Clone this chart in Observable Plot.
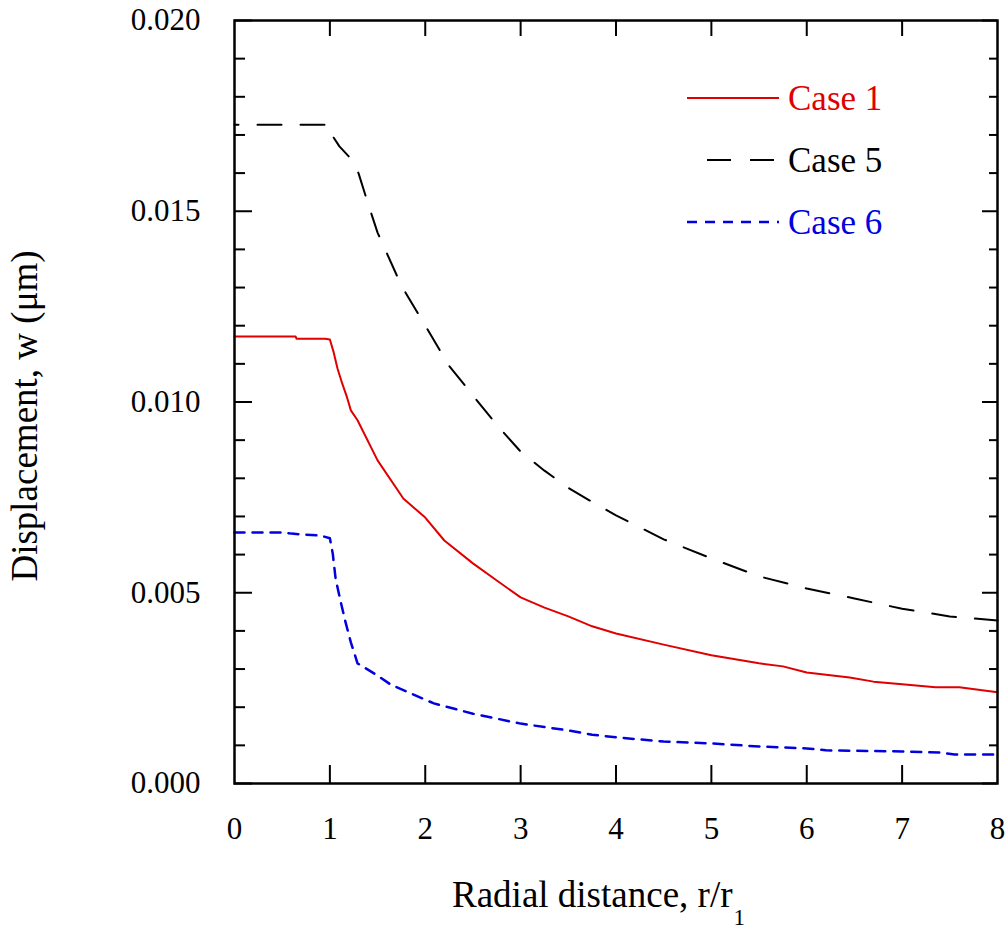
<!DOCTYPE html>
<html><head><meta charset="utf-8">
<script src="https://cdn.jsdelivr.net/npm/d3@7"></script>
<script src="https://cdn.jsdelivr.net/npm/@observablehq/plot@0.6"></script>
<style>body{margin:0;background:#fff}</style>
</head><body><div id="chart"></div>
<script>
// Case 1 (red solid)
const r1 = [0, 0.64, 0.65, 0.95, 1.0, 1.04, 1.08, 1.13, 1.18, 1.22, 1.29, 1.5, 1.77, 2.0, 2.2, 2.5, 2.75, 3.0, 3.25, 3.5, 3.75, 4.0, 4.5, 5.0, 5.5, 5.75, 6.0, 6.45, 6.7, 7.0, 7.35, 7.6, 8.0];
const w1 = [0.01172, 0.01172, 0.01166, 0.01166, 0.01164, 0.0113, 0.01088, 0.01048, 0.01012, 0.00978, 0.00952, 0.00847, 0.00747, 0.00697, 0.00637, 0.00577, 0.00532, 0.00488, 0.00461, 0.00438, 0.00412, 0.00393, 0.00364, 0.00336, 0.00315, 0.00307, 0.00291, 0.00278, 0.00267, 0.0026, 0.00252, 0.00252, 0.00239];
// Case 5 (black long dash)
const r5 = [0, 1.0, 1.04, 1.1, 1.22, 1.3, 1.4, 1.5, 1.75, 2.0, 2.25, 2.5, 2.75, 3.0, 3.25, 3.5, 3.75, 4.0, 4.5, 5.0, 5.5, 6.0, 6.5, 7.0, 7.5, 8.0];
const w5 = [0.01727, 0.01727, 0.01693, 0.0167, 0.01638, 0.016, 0.0152, 0.01444, 0.01305, 0.012, 0.01095, 0.01017, 0.0094, 0.0087, 0.0082, 0.00775, 0.00738, 0.00703, 0.0064, 0.0059, 0.00543, 0.00511, 0.00485, 0.00458, 0.00438, 0.00427];
// Case 6 (blue short dash)
const r6 = [0, 0.5, 0.6, 0.75, 0.9, 1.0, 1.03, 1.06, 1.11, 1.16, 1.22, 1.29, 1.5, 1.64, 2.09, 2.5, 3.0, 3.5, 3.75, 4.0, 4.5, 5.0, 5.5, 6.0, 6.2, 7.0, 7.4, 7.55, 8.0];
const w6 = [0.00658, 0.00658, 0.00655, 0.00652, 0.0065, 0.00643, 0.00603, 0.00537, 0.0048, 0.00427, 0.0037, 0.00315, 0.00283, 0.00259, 0.0021, 0.00183, 0.00157, 0.00139, 0.00128, 0.00121, 0.0011, 0.00105, 0.00097, 0.00092, 0.00087, 0.00084, 0.00081, 0.00076, 0.00076];

const seriesNames = ["Case 1", "Case 5", "Case 6"];
const xTickLabels = [0, 1, 2, 3, 4, 5, 6, 7, 8];
const xInnerTicks = [1, 2, 3, 4, 5, 6, 7];
const yMajorTicks = [0, 0.005, 0.010, 0.015, 0.020];
const yMinorTicks = [0.001, 0.002, 0.003, 0.004, 0.006, 0.007, 0.008, 0.009, 0.011, 0.012, 0.013, 0.014, 0.016, 0.017, 0.018, 0.019];

const toRows = (rs, ws) => rs.map((r, i) => ({r, w: ws[i]}));
const d1 = toRows(r1, w1), d5 = toRows(r5, w5), d6 = toRows(r6, w6);

const W = 1005, H = 931, mL = 234, mR = 8, mT = 20, mB = 148;
const pw = W - mL - mR, ph = H - mT - mB;
const RED = "#e00000", BLUE = "#0000e0";

const plot = Plot.plot({
  width: W, height: H,
  marginLeft: mL, marginRight: mR, marginTop: mT, marginBottom: mB,
  style: {fontFamily: "Liberation Serif", background: "#fff", color: "#000", overflow: "visible"},
  x: {domain: [0, 8]},
  y: {domain: [0, 0.02]},
  marks: [
    Plot.line(d1, {x: "r", y: "w", stroke: RED, strokeWidth: 2}),
    Plot.line(d5, {x: "r", y: "w", stroke: "#000", strokeWidth: 2, strokeDasharray: "24,19", strokeDashoffset: 20}),
    Plot.line(d6, {x: "r", y: "w", stroke: BLUE, strokeWidth: 2.5, strokeDasharray: "10,8"}),
    // inward ticks
    Plot.tickY(yMajorTicks, {y: d => d, insetRight: pw - 18, stroke: "#000", strokeWidth: 2}),
    Plot.tickY(yMinorTicks, {y: d => d, insetRight: pw - 11, stroke: "#000", strokeWidth: 2}),
    Plot.tickY(yMajorTicks, {y: d => d, insetLeft: pw - 15, stroke: "#000", strokeWidth: 2}),
    Plot.tickY(yMinorTicks, {y: d => d, insetLeft: pw - 8, stroke: "#000", strokeWidth: 2}),
    Plot.tickX(xInnerTicks, {x: d => d, insetTop: ph - 18, stroke: "#000", strokeWidth: 2}),
    Plot.tickX(xInnerTicks, {x: d => d, insetBottom: ph - 16, stroke: "#000", strokeWidth: 2}),
    Plot.axisX({ticks: xTickLabels, tickFormat: d => String(d), tickSize: 0, tickPadding: 33, fontSize: 31, label: null}),
    Plot.axisY({ticks: yMajorTicks, tickFormat: d3.format(".3f"), tickSize: 0, tickPadding: 34, fontSize: 31, label: null}),
    Plot.frame({stroke: "#000", strokeWidth: 2.5})
  ]
});

const svg = d3.select(plot);
// axis titles
const xt = svg.append("text").attr("x", 452).attr("y", 907).attr("text-anchor", "start")
  .attr("font-family", "Liberation Serif").attr("font-size", 37).attr("fill", "#000");
xt.append("tspan").text("Radial distance, r/r");
xt.append("tspan").attr("dx", 1).attr("dy", 18).attr("font-size", 23).text("1");
svg.append("text").attr("transform", "translate(37,416) rotate(-90)").attr("text-anchor", "middle")
  .attr("font-family", "Liberation Serif").attr("font-size", 37).attr("fill", "#000").text("Displacement, w (\u03bcm)");

// legend
const legendStyles = [
  {stroke: RED, dash: null, width: 2, x1: 687},
  {stroke: "#000", dash: "24,19", width: 2, x1: 707},
  {stroke: BLUE, dash: "10,8", width: 2.5, x1: 687}
];
const lg = svg.append("g");
seriesNames.forEach((name, i) => {
  const y = 98 + i * 62;
  const st = legendStyles[i];
  const ln = lg.append("line").attr("x1", st.x1).attr("x2", 779).attr("y1", y).attr("y2", y)
    .attr("stroke", st.stroke).attr("stroke-width", st.width);
  if (st.dash) ln.attr("stroke-dasharray", st.dash);
  lg.append("text").attr("x", 788).attr("y", y + 12).attr("text-anchor", "start")
    .attr("font-family", "Liberation Serif").attr("font-size", 35).attr("fill", st.stroke).text(name);
});

document.getElementById("chart").appendChild(plot);
</script>
</body></html>
